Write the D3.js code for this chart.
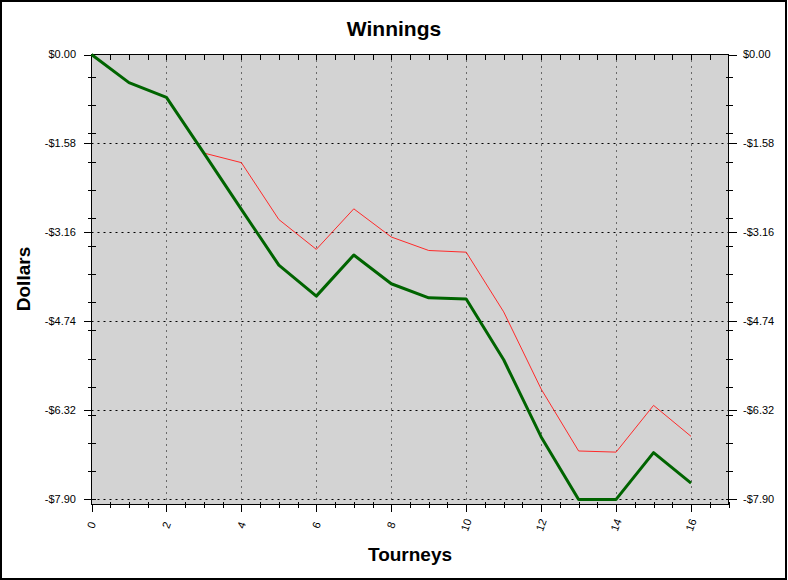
<!DOCTYPE html>
<html>
<head>
<meta charset="utf-8">
<script src="https://cdn.jsdelivr.net/npm/d3@7"></script>
<style>
  html, body { margin: 0; padding: 0; background: #fff; }
  svg { display: block; font-family: "Liberation Sans", Arial, sans-serif; }
</style>
</head>
<body>
<svg id="chart" width="788" height="580"></svg>
<script>
// ---- data ----
const tourneys = [0, 1, 2, 3, 4, 5, 6, 7, 8, 9, 10, 11, 12, 13, 14, 15, 16];
const winnings = [0, -0.50, -0.76, -1.75, -2.75, -3.74, -4.29, -3.56, -4.07, -4.32, -4.34, -5.42, -6.79, -7.90, -7.90, -7.07, -7.61];
const secondSeries = [null, null, null, -1.75, -1.92, -2.93, -3.46, -2.74, -3.24, -3.48, -3.51, -4.57, -5.94, -7.04, -7.06, -6.23, -6.78];
const yTickValues = [0, -1.58, -3.16, -4.74, -6.32, -7.90];
const yTickLabels = ["$0.00", "-$1.58", "-$3.16", "-$4.74", "-$6.32", "-$7.90"];
const xTickValues = [0, 2, 4, 6, 8, 10, 12, 14, 16];
const xDomain = [0, 17];
const yDomain = [-7.99, 0];

const svg = d3.select("#chart");
const L = 91.5, R = 728.5, T = 54.5, B = 504.5;

const x = d3.scaleLinear().domain(xDomain).range([L, R]);
const y = d3.scaleLinear().domain(yDomain).range([B, T]);

// outer border
svg.append("rect").attr("x", 1).attr("y", 1).attr("width", 785).attr("height", 578)
  .attr("fill", "#fff").attr("stroke", "#000").attr("stroke-width", 2);

// plot background
svg.append("rect").attr("x", L).attr("y", T).attr("width", R - L).attr("height", B - T)
  .attr("fill", "#d3d3d3");

// grid lines
const grid = svg.append("g");
grid.selectAll("line.vg").data(xTickValues.filter(v => v > 0)).join("line")
  .attr("x1", d => Math.round(x(d)) + 0.5).attr("x2", d => Math.round(x(d)) + 0.5)
  .attr("y1", T).attr("y2", B)
  .attr("stroke", "#000").attr("stroke-width", 1).attr("stroke-dasharray", "1,5");
grid.selectAll("line.hg").data(yTickValues.filter(v => v < 0)).join("line")
  .attr("x1", L).attr("x2", R)
  .attr("y1", d => Math.round(y(d)) + 0.5).attr("y2", d => Math.round(y(d)) + 0.5)
  .attr("stroke", "#000").attr("stroke-width", 1).attr("stroke-dasharray", "2,4");

// minor tick values
const xMinor = d3.range(0, 17.01, 0.5).filter(v => !xTickValues.includes(v));
const yMinor = d3.range(0, 16).map(k => -7.9 + 0.5 * k).map(v => +v.toFixed(2));

// axes via d3 axis generators
const axisG = svg.append("g");
axisG.append("g").attr("transform", `translate(0,${B})`)
  .call(d3.axisBottom(x).tickValues(xTickValues).tickSize(7).tickFormat(""))
  .call(g => g.select(".domain").remove());
axisG.append("g").attr("transform", `translate(0,${B - 3})`)
  .call(d3.axisBottom(x).tickValues(xMinor).tickSize(6).tickFormat(""))
  .call(g => g.select(".domain").remove());
axisG.append("g").attr("transform", `translate(0,${T})`)
  .call(d3.axisBottom(x).tickValues(d3.range(0.5, 17, 0.5)).tickSize(5).tickFormat(""))
  .call(g => g.select(".domain").remove());
axisG.append("g").attr("transform", `translate(${L},0)`)
  .call(d3.axisLeft(y).tickValues(yTickValues).tickSize(8).tickFormat(""))
  .call(g => g.select(".domain").remove());
axisG.append("g").attr("transform", `translate(${L + 4},0)`)
  .call(d3.axisLeft(y).tickValues(yMinor).tickSize(8).tickFormat(""))
  .call(g => g.select(".domain").remove());
axisG.append("g").attr("transform", `translate(${R},0)`)
  .call(d3.axisRight(y).tickValues(yTickValues).tickSize(8).tickFormat(""))
  .call(g => g.select(".domain").remove());
axisG.append("g").attr("transform", `translate(${R - 3},0)`)
  .call(d3.axisRight(y).tickValues(yMinor).tickSize(7).tickFormat(""))
  .call(g => g.select(".domain").remove());
axisG.selectAll(".tick line").attr("stroke", "#000").attr("shape-rendering", "crispEdges");

// plot frame
svg.append("rect").attr("x", L).attr("y", T).attr("width", R - L).attr("height", B - T)
  .attr("fill", "none").attr("stroke", "#000").attr("stroke-width", 1)
  .attr("shape-rendering", "crispEdges");

// y tick labels
svg.append("g").selectAll("text").data(yTickValues).join("text")
  .attr("x", 76).attr("y", d => y(d)).attr("dy", "0.35em")
  .attr("text-anchor", "end").attr("font-size", 11).attr("fill", "#000")
  .text((d, i) => yTickLabels[i]);
svg.append("g").selectAll("text").data(yTickValues).join("text")
  .attr("x", 743).attr("y", d => y(d)).attr("dy", "0.35em")
  .attr("text-anchor", "start").attr("font-size", 11).attr("fill", "#000")
  .text((d, i) => yTickLabels[i]);

// x tick labels (rotated)
svg.append("g").selectAll("text").data(xTickValues).join("text")
  .attr("transform", d => `translate(${x(d)},525) rotate(-70)`)
  .attr("text-anchor", "middle").attr("dy", "0.35em")
  .attr("font-size", 11).attr("fill", "#000")
  .text(d => d);

// lines
const line = d3.line()
  .defined(d => d[1] !== null)
  .x(d => x(d[0])).y(d => y(d[1]));

svg.append("path")
  .datum(tourneys.map((t, i) => [t, secondSeries[i]]))
  .attr("fill", "none").attr("stroke", "#ff2a2a").attr("stroke-width", 1)
  .attr("d", line);

svg.append("path")
  .datum(tourneys.map((t, i) => [t, winnings[i]]))
  .attr("fill", "none").attr("stroke", "#006400").attr("stroke-width", 3)
  .attr("stroke-linejoin", "round")
  .attr("d", line);

// titles
svg.append("text").attr("x", 394).attr("y", 36).attr("text-anchor", "middle")
  .attr("font-size", 21).attr("font-weight", "bold").text("Winnings");
svg.append("text").attr("x", 410).attr("y", 561).attr("text-anchor", "middle")
  .attr("font-size", 19).attr("font-weight", "bold").text("Tourneys");
svg.append("text").attr("transform", "translate(30,279) rotate(-90)")
  .attr("text-anchor", "middle")
  .attr("font-size", 19).attr("font-weight", "bold").text("Dollars");
</script>
</body>
</html>
